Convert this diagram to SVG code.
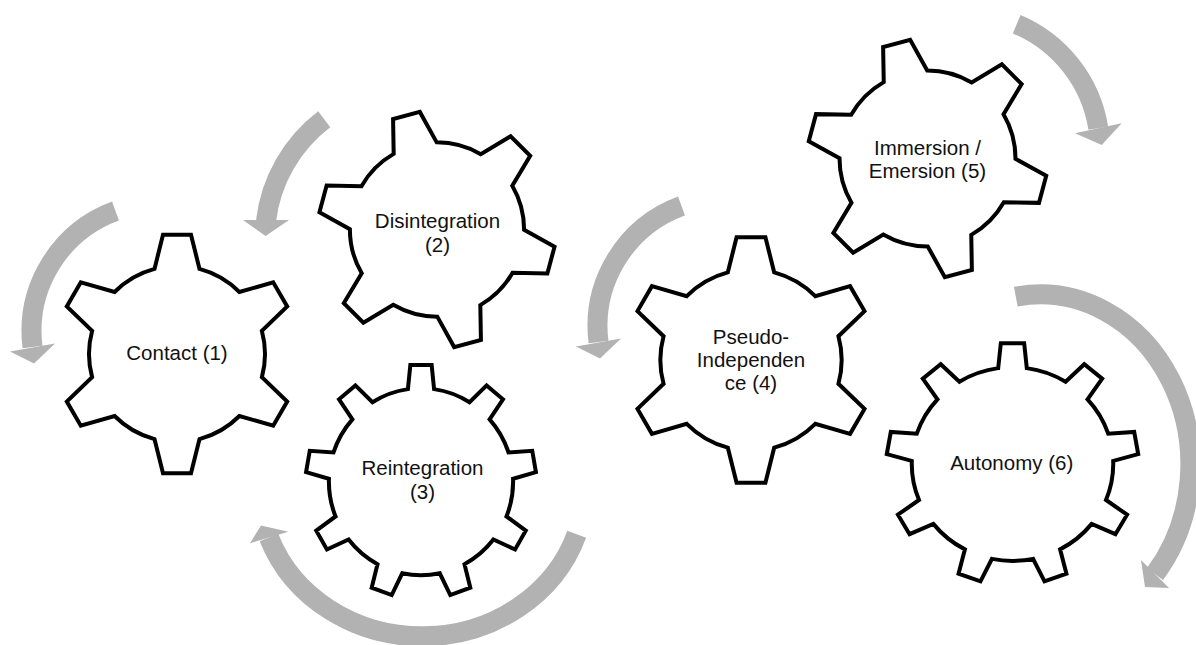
<svg xmlns="http://www.w3.org/2000/svg" xmlns:xlink="http://www.w3.org/1999/xlink" width="1196" height="645" viewBox="0 0 1196 645">
<style>
.gear{fill:#fff;stroke:#000;stroke-width:4;stroke-linejoin:miter;vector-effect:non-scaling-stroke}
.arc{fill:none;stroke:#b2b2b2;stroke-width:20;stroke-linecap:butt}
.head{fill:#b2b2b2;stroke:none}
.lbl{font-family:"Liberation Sans",Arial,sans-serif;font-size:20.5px;fill:#111;text-anchor:middle}
</style>
<defs>
<path id="g6" class="gear" d="M-22.5,-85.1 L-14,-119.2 L14,-119.2 L22.5,-85.1 A88,88 0 0,1 62.4,-62 L96.2,-71.7 L110.2,-47.5 L84.9,-23.1 A88,88 0 0,1 84.9,23.1 L110.2,47.5 L96.2,71.7 L62.4,62 A88,88 0 0,1 22.5,85.1 L14,119.2 L-14,119.2 L-22.5,85.1 A88,88 0 0,1 -62.4,62 L-96.2,71.7 L-110.2,47.5 L-84.9,23.1 A88,88 0 0,1 -84.9,-23.1 L-110.2,-47.5 L-96.2,-71.7 L-62.4,-62 A88,88 0 0,1 -22.5,-85.1 Z"/>
<path id="g9" class="gear" d="M-13.5,-94 L-11,-118.5 L11,-118.5 L13.5,-94 A95,95 0 0,1 50.1,-80.7 L67.7,-97.8 L84.6,-83.7 L70.8,-63.3 A95,95 0 0,1 90.3,-29.7 L114.8,-31.4 L118.6,-9.7 L95,-3 A95,95 0 0,1 88.2,35.3 L108.1,49.7 L97.1,68.8 L74.7,58.7 A95,95 0 0,1 44.9,83.7 L50.9,107.6 L30.2,115.1 L19.4,93 A95,95 0 0,1 -19.4,93 L-30.2,115.1 L-50.9,107.6 L-44.9,83.7 A95,95 0 0,1 -74.7,58.7 L-97.1,68.8 L-108.1,49.7 L-88.2,35.3 A95,95 0 0,1 -95,-3 L-118.6,-9.7 L-114.8,-31.4 L-90.3,-29.7 A95,95 0 0,1 -70.8,-63.3 L-84.6,-83.7 L-67.7,-97.8 L-50.1,-80.7 A95,95 0 0,1 -13.5,-94 Z"/>
</defs>
<rect x="0" y="0" width="1196" height="645" fill="#fff"/>
<g id="connectors">
<path class="arc" d="M115.5,211 A128,128 0 0,0 32.5,347"/>
<polygon class="head" points="10,351.5 55,343.5 34,363.5"/>
<path class="arc" d="M324.2,119.2 A150,150 0 0,0 266,221"/>
<polygon class="head" points="243,220 289,220 265.5,236"/>
<path class="arc" d="M576.7,534.2 A163,150 0 0,1 269,537.5"/>
<polygon class="head" points="250,543.3 288.3,531.7 261,525.5"/>
<path class="arc" d="M681.5,206 A128,128 0 0,0 598.5,342"/>
<polygon class="head" points="576,346.5 621,338.5 600,358.5"/>
<path class="arc" d="M1016.7,24.2 A136,136 0 0,1 1098.3,128.3"/>
<polygon class="head" points="1075,133.3 1121.7,123.3 1101.7,145"/>
<path class="arc" d="M1015.8,296.7 A150,170 0 0,1 1155,574"/>
<polygon class="head" points="1141,560 1169,588 1145,587"/>
</g>
<g id="node1">
<use xlink:href="#g6" href="#g6" transform="translate(177,354)"/>
<text class="lbl" x="177" y="360">Contact (1)</text>
</g>
<g id="node2">
<use xlink:href="#g6" href="#g6" transform="translate(437,229.5) rotate(-15) scale(0.99)"/>
<text class="lbl" x="437.5" y="228.3">Disintegration</text>
<text class="lbl" x="437.5" y="251.7">(2)</text>
</g>
<g id="node3">
<use xlink:href="#g9" href="#g9" transform="translate(421,481.7) scale(0.969,0.985)"/>
<text class="lbl" x="422.5" y="475">Reintegration</text>
<text class="lbl" x="422.5" y="498.5">(3)</text>
</g>
<g id="node4">
<use xlink:href="#g6" href="#g6" transform="translate(751,360) scale(1.03)"/>
<text class="lbl" x="751" y="343.5">Pseudo-</text>
<text class="lbl" x="751" y="366.5">Independen</text>
<text class="lbl" x="751" y="389.5">ce (4)</text>
</g>
<g id="node5">
<use xlink:href="#g6" href="#g6" transform="translate(927.5,158.5) rotate(-15)"/>
<text class="lbl" x="927.5" y="155">Immersion /</text>
<text class="lbl" x="927.5" y="177.7">Emersion (5)</text>
</g>
<g id="node6">
<use xlink:href="#g9" href="#g9" transform="translate(1012.5,464) scale(1.06,1.02)"/>
<text class="lbl" x="1011.7" y="470">Autonomy (6)</text>
</g>
</svg>
